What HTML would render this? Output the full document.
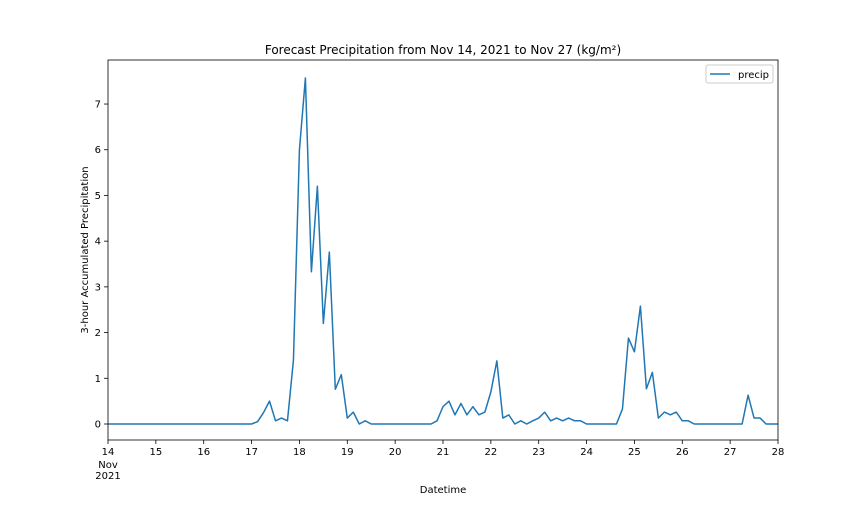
<!DOCTYPE html>
<html><head><meta charset="utf-8"><style>
body{margin:0;background:#fff}
svg text{font-family:"DejaVu Sans","Liberation Sans",sans-serif;fill:#000}
</style></head><body>
<svg width="864" height="504">
<rect width="864" height="504" fill="#fff"/>
<g id="g"></g>
</svg>
<script>
const dayLabels=["14","15","16","17","18","19","20","21","22","23","24","25","26","27","28"];
const yTicks=[0,1,2,3,4,5,6,7];
const precip=[0,0,0,0,0,0,0,0, 0,0,0,0,0,0,0,0, 0,0,0,0,0,0,0,0,
0,0.05,0.25,0.5,0.07,0.13,0.07,1.4, 6.0,7.57,3.33,5.2,2.2,3.76,0.76,1.08,
0.13,0.26,0,0.07,0,0,0,0, 0,0,0,0,0,0,0,0.07,
0.38,0.5,0.2,0.45,0.2,0.38,0.2,0.26, 0.7,1.38,0.13,0.2,0,0.07,0,0.07,
0.13,0.26,0.07,0.13,0.07,0.13,0.07,0.07, 0,0,0,0,0,0,0.33,1.88,
1.58,2.58,0.77,1.13,0.13,0.26,0.2,0.26, 0.07,0.07,0,0,0,0,0,0,
0,0,0,0.63,0.13,0.13,0,0, 0];
const NS="http://www.w3.org/2000/svg";
const g=document.getElementById('g');
const L=108,R=778,T=60,B=440;
const x=i=>L+(R-L)*i/112;
const y=v=>424-v*45.71;
function el(t,a,txt){const e=document.createElementNS(NS,t);for(const k in a)e.setAttribute(k,a[k]);if(txt!==undefined)e.textContent=txt;g.appendChild(e);return e;}
let ttl=el('text',{x:443,y:54,'text-anchor':'middle','font-size':12},'Forecast Precipitation from Nov 14, 2021 to Nov 27 (kg/m²)');


yTicks.forEach(v=>{
 let t=el('line',{x1:L-4,x2:L,y1:y(v),y2:y(v),stroke:'#000','stroke-width':0.8});
 
 
 let l=el('text',{x:L-7,y:y(v)+3.5,'text-anchor':'end','font-size':10},String(v));
 
 
});
dayLabels.forEach((d,k)=>{
 const xx=x(k*8);
 let t=el('line',{x1:xx,x2:xx,y1:B,y2:B+4,stroke:'#000','stroke-width':0.8});
 
 
 let l=el('text',{x:xx,y:B+15,'text-anchor':'middle','font-size':10},d);
 
 
});
let m1=el('text',{x:L,y:B+28,'text-anchor':'middle','font-size':10},'Nov');


let m2=el('text',{x:L,y:B+39,'text-anchor':'middle','font-size':10},'2021');


let xt=el('text',{x:443,y:493,'text-anchor':'middle','font-size':10},'Datetime');


let yt=el('text',{x:0,y:0,'text-anchor':'middle','font-size':10,transform:'translate(88,250) rotate(-90)'},'3-hour Accumulated Precipitation');


let ln=el('polyline',{points:precip.map((v,i)=>x(i)+','+y(v)).join(' '),fill:'none',stroke:'#1f77b4','stroke-width':1.5,'stroke-linejoin':'round'});


let fr=el('rect',{x:L,y:T,width:R-L,height:B-T,fill:'none',stroke:'#000','stroke-width':0.8});


let lg=el('rect',{x:706,y:65,width:67,height:18,fill:'#fff',stroke:'#ccc','stroke-width':1,rx:2});


let ll=el('line',{x1:710,x2:730,y1:74,y2:74,stroke:'#1f77b4','stroke-width':1.5});


let lt=el('text',{x:738,y:78,'font-size':10},'precip');


</script>
</body></html>
